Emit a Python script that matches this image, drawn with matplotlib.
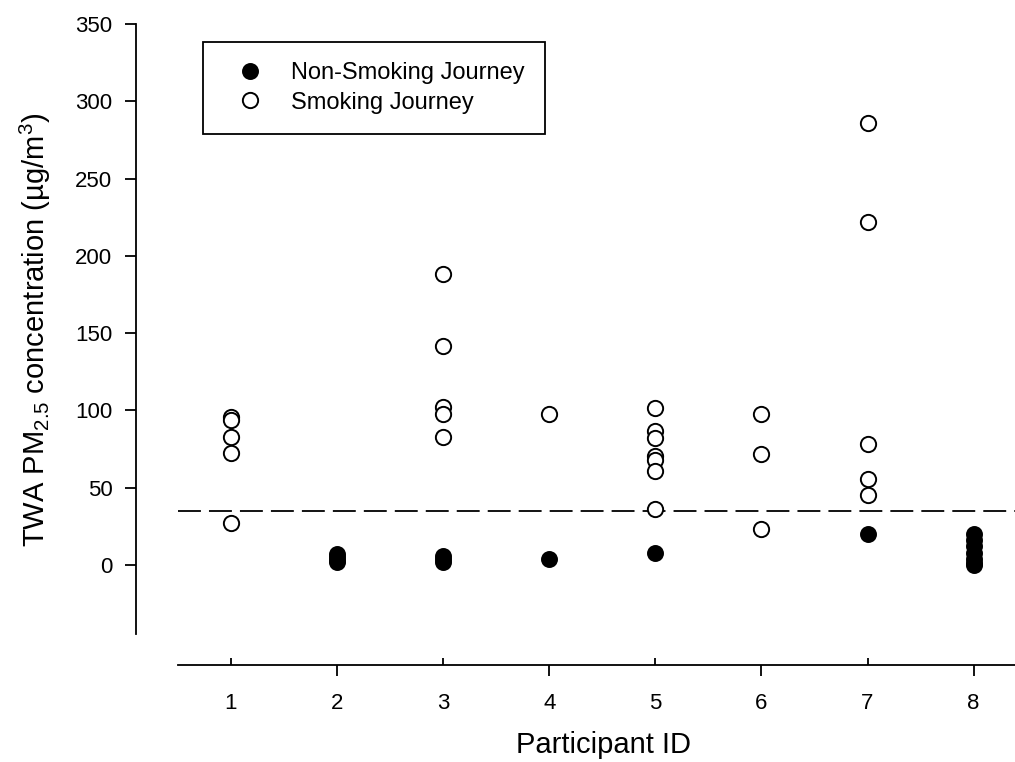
import matplotlib
matplotlib.use("Agg")
import matplotlib.pyplot as plt
import matplotlib.lines as mlines

plt.rcParams['font.family'] = ['Liberation Sans', 'DejaVu Sans']
plt.rcParams['mathtext.default'] = 'regular'

# ---- data ----
participants = [1, 2, 3, 4, 5, 6, 7, 8]
non_smoking = {
    1: [],
    2: [7, 5, 3, 2],
    3: [6, 4, 2],
    4: [4],
    5: [7.5],
    6: [],
    7: [20],
    8: [20, 16, 12, 8, 4, 1, 0],
}
smoking = {
    1: [96, 94, 82.5, 72.5, 27],
    2: [],
    3: [188.5, 142, 102, 98, 83],
    4: [98],
    5: [101.5, 87, 82, 70.5, 68, 61, 36.5],
    6: [97.5, 71.5, 23],
    7: [286, 222, 78.5, 55.5, 45],
    8: [],
}
threshold = 35
y_ticks = [0, 50, 100, 150, 200, 250, 300, 350]
legend_labels = ["Non-Smoking Journey", "Smoking Journey"]

W, H = 1015, 762
fig = plt.figure(figsize=(W / 100, H / 100), dpi=100)
ax = fig.add_axes([136 / W, (H - 665) / H, 1 - 136 / W, (665 - 24) / H])

ns_x = [p for p in participants for _ in non_smoking[p]]
ns_y = [v for p in participants for v in non_smoking[p]]
s_x = [p for p in participants for _ in smoking[p]]
s_y = [v for p in participants for v in smoking[p]]

ms = 11
ax.plot(ns_x, ns_y, 'o', color='black', markersize=ms, markeredgewidth=1.2,
        label=legend_labels[0], zorder=3)
ax.plot(s_x, s_y, 'o', markerfacecolor='white', markeredgecolor='black',
        markersize=ms, markeredgewidth=1.4, label=legend_labels[1], zorder=3)

lw = 1.3
ax.hlines(threshold, 0.5, 8.39, colors='black', linewidth=lw,
          linestyles=(0, (16.5 / lw, 5.8 / lw)), zorder=2)

ax.set_xlim(0.105, 8.39)
ax.set_ylim(-64.7, 350)

for s in ['top', 'right']:
    ax.spines[s].set_visible(False)
ax.spines['left'].set_bounds(-44.6, 350)
ax.spines['bottom'].set_bounds(0.5, 8.39)
for s in ['left', 'bottom']:
    ax.spines[s].set_linewidth(1.3)

ax.set_yticks(y_ticks)
ax.set_xticks(participants)
ax.set_xticklabels([str(p) for p in participants])
ax.tick_params(axis='y', direction='out', length=8, width=1.3, labelsize=16, pad=9)
ax.tick_params(axis='x', direction='out', length=8, width=1.3, labelsize=16, pad=12)
for t, v in zip(ax.xaxis.get_major_ticks(), participants):
    if v % 2 == 1:
        t.tick1line.set_marker(mlines.TICKUP)
        t.tick1line.set_markersize(5)

fig.text(603 / W, 1 - 745 / H, "Participant ID", fontsize=21,
         ha='center', va='center')
fig.text(35 / W, 1 - 330 / H, "TWA PM$_{2.5}$ concentration (µg/m$^{3}$)",
         fontsize=21, rotation=90, ha='center', va='center')

leg = ax.legend(loc='upper left', bbox_to_anchor=(203 / W, 1 - 42 / H),
                bbox_transform=fig.transFigure, borderaxespad=0,
                fontsize=17, frameon=True, fancybox=False, framealpha=1,
                edgecolor='black', borderpad=0.85, handlelength=2.3,
                handletextpad=0.57, labelspacing=0.32, numpoints=1)
leg.get_frame().set_linewidth(1.3)

fig.savefig("out.png", dpi=100)
